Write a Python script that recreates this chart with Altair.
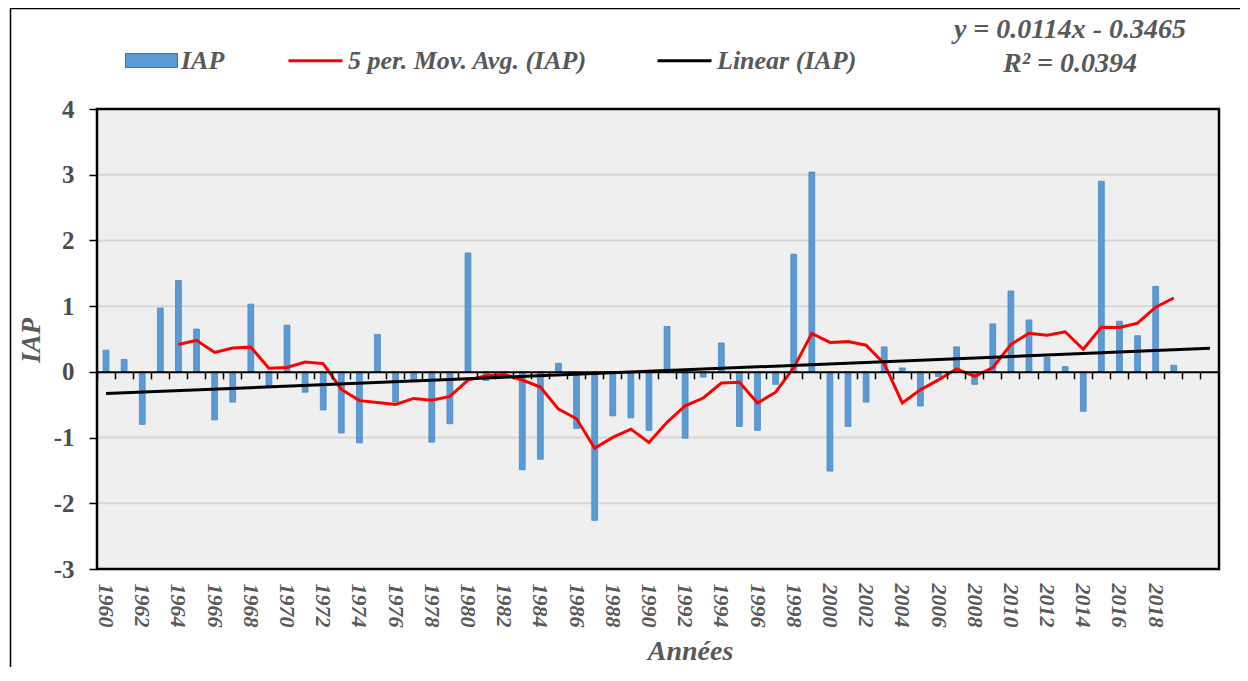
import altair as alt
import pandas as pd

# ---------------- data ----------------
years = list(range(1960, 2020))
iap = [
    0.33, 0.19, -0.80, 0.97, 1.39, 0.65, -0.73, -0.46, 1.03, -0.22,
    0.71, -0.31, -0.58, -0.93, -1.08, 0.57, -0.46, -0.12, -1.07, -0.79,
    1.81, -0.13, -0.02, -1.49, -1.33, 0.13, -0.86, -2.26, -0.67, -0.70,
    -0.89, 0.69, -1.01, -0.08, 0.44, -0.83, -0.89, -0.19, 1.79, 3.04,
    -1.51, -0.83, -0.46, 0.38, 0.06, -0.52, -0.07, 0.38, -0.19, 0.73,
    1.23, 0.79, 0.22, 0.08, -0.60, 2.90, 0.77, 0.55, 1.30, 0.10,
]
axis_years = list(range(1960, 2022))          # category axis incl. 2 empty slots
label_years = list(range(1960, 2020, 2))      # printed tick labels
y_ticks = [-3, -2, -1, 0, 1, 2, 3, 4]
grid_values = [-3, -2, -1, 1, 2, 3, 4]
series_names = ["IAP", "5 per. Mov. Avg. (IAP)", "Linear (IAP)"]
series_colors = ["#5b9bd5", "#ff0000", "#000000"]
equation_lines = ["y = 0.0114x - 0.3465", "R² = 0.0394"]

# ---------------- layout / style ----------------
W, H = 1122, 460
FONT = "Liberation Serif"
GRAY = "#595959"
ZERO_OFFSET = -H * 3.0 / 7.0  # zero line position from the bottom

df = pd.DataFrame({"year": years, "IAP": iap, "idx": list(range(1, len(years) + 1))})
one = pd.DataFrame({"a": [0]})

x_scale = alt.Scale(domain=axis_years, paddingInner=0, paddingOuter=0)
y_scale = alt.Scale(domain=[-3, 4], nice=False)

y_axis = alt.Axis(
    values=y_ticks, grid=False, domain=False, ticks=True, tickSize=8, tickWidth=1.5,
    tickColor="black", labelFont=FONT, labelFontSize=25, labelFontWeight="bold",
    labelColor="#4d4d4d", labelPadding=15, labelExpr="'' + datum.value",
    title="IAP", titleFont=FONT, titleFontSize=27,
    titleFontStyle="italic", titleFontWeight="bold", titleColor=GRAY, titleAngle=270,
    titleX=-66, titleY=231, titleAlign="center", titleBaseline="middle",
)

x_label_axis = alt.Axis(
    orient="bottom", values=label_years, labelAngle=90, labelFont=FONT,
    labelFontSize=22, labelFontWeight="bold", labelFontStyle="italic", labelColor=GRAY,
    labelPadding=14, labelOverlap=False, domain=False, ticks=False, tickSize=0, grid=False,
    title="Années", titleFont=FONT, titleFontSize=28, titleFontStyle="italic",
    titleFontWeight="bold", titleColor=GRAY, titleX=593, titleY=82, titleAlign="center",
    titleBaseline="middle", titleAngle=0,
)

zero_axis = alt.Axis(
    orient="bottom", offset=ZERO_OFFSET, labels=False, domain=True, domainColor="black",
    domainWidth=2, ticks=True, tickColor="black", tickWidth=1.5, tickSize=7,
    bandPosition=0, grid=False, title=None, zindex=2,
)

legend_fill = alt.Legend(
    orient="none", legendX=28, legendY=-75, title=None, padding=0,
    symbolType="M-1,-0.27H1V0.27H-1Z", symbolSize=2704, symbolStrokeColor="#41719c",
    symbolStrokeWidth=1, labelFont=FONT, labelFontSize=26, labelFontStyle="italic",
    labelFontWeight="bold", labelColor=GRAY, labelOffset=3, labelLimit=400,
)
legend_stroke = alt.Legend(
    orient="none", legendX=190, legendY=-77, direction="horizontal", title=None, padding=0,
    symbolType="stroke", symbolSize=2916, symbolStrokeWidth=3, columnPadding=63,
    labelFont=FONT, labelFontSize=26, labelFontStyle="italic", labelFontWeight="bold",
    labelColor=GRAY, labelOffset=4, labelLimit=400,
)
fill_scale = alt.Scale(domain=series_names[:1], range=series_colors[:1])
stroke_scale = alt.Scale(domain=series_names[1:], range=series_colors[1:])

bg = alt.Chart(one).mark_rect(fill="#efefef", strokeWidth=0).encode(
    x=alt.value(0), x2=alt.value(W), y=alt.value(0), y2=alt.value(H)
)

grid = alt.Chart(pd.DataFrame({"g": grid_values})).mark_rule(
    color="#d6d6d6", strokeWidth=2
).encode(y=alt.Y("g:Q", scale=y_scale, axis=y_axis))

bars = alt.Chart(df).transform_calculate(s=f"'{series_names[0]}'").mark_bar(
    width=alt.RelativeBandSize(0.32), stroke="#4a86c0", strokeWidth=0.8
).encode(
    x=alt.X("year:O", scale=x_scale, axis=x_label_axis),
    y=alt.Y("IAP:Q", scale=y_scale, axis=y_axis),
    fill=alt.Fill("s:N", scale=fill_scale, legend=legend_fill),
)

ma = alt.Chart(df).transform_window(
    ma="mean(IAP)", frame=[-4, 0], sort=[alt.SortField("year")]
).transform_filter("datum.idx >= 5").transform_calculate(
    s=f"'{series_names[1]}'"
).mark_line(strokeWidth=3).encode(
    x=alt.X("year:O", scale=x_scale, axis=zero_axis),
    y=alt.Y("ma:Q", scale=y_scale, axis=y_axis),
    stroke=alt.Stroke("s:N", scale=stroke_scale, legend=legend_stroke),
)

trend = alt.Chart(df).transform_regression(
    "idx", "IAP", extent=[1, len(axis_years)]
).transform_calculate(year="1959 + datum.idx", s=f"'{series_names[2]}'").mark_line(
    strokeWidth=3
).encode(
    x=alt.X("year:O", scale=x_scale, axis=None),
    y=alt.Y("IAP:Q", scale=y_scale, axis=y_axis),
    stroke=alt.Stroke("s:N", scale=stroke_scale, legend=legend_stroke),
)

eq_style = dict(font=FONT, fontSize=28, fontStyle="italic", fontWeight="bold",
                color=GRAY, align="center", baseline="middle")
eq1 = alt.Chart(one).mark_text(text=equation_lines[0], **eq_style).encode(
    x=alt.value(973), y=alt.value(-79))
eq2 = alt.Chart(one).mark_text(text=equation_lines[1], **eq_style).encode(
    x=alt.value(973), y=alt.value(-45))

plot_border = alt.Chart(one).mark_rect(fillOpacity=0, stroke="black", strokeWidth=2.5).encode(
    x=alt.value(0), x2=alt.value(W), y=alt.value(0), y2=alt.value(H))
outer_frame = alt.Chart(one).mark_rect(fillOpacity=0, stroke="black", strokeWidth=1.5).encode(
    x=alt.value(-86.5), x2=alt.value(1300), y=alt.value(-100.5), y2=alt.value(700))

chart = alt.layer(
    bg, grid, bars, ma, trend, plot_border, eq1, eq2, outer_frame
).resolve_axis(x="independent").properties(
    width=W, height=H,
    padding={"left": 89, "top": 101, "right": 21, "bottom": 98},
    autosize=alt.AutoSizeParams(type="none"),
).configure_view(strokeWidth=0).configure(background="white")

chart.save("out.html", embed_options={"renderer": "svg", "actions": False})
